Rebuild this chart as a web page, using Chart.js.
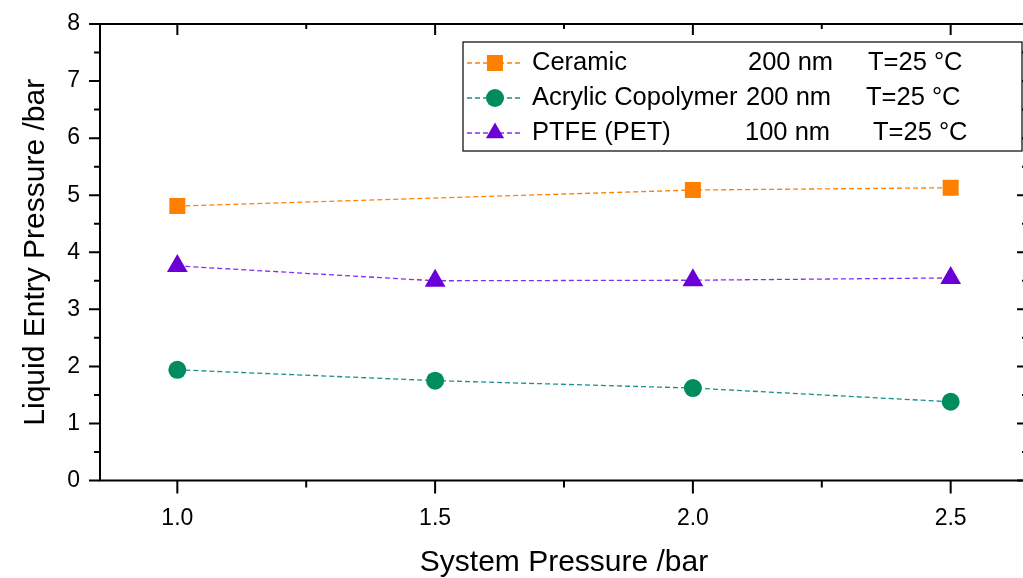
<!DOCTYPE html>
<html>
<head>
<meta charset="utf-8">
<script src="https://cdn.jsdelivr.net/npm/chart.js@4.4.1/dist/chart.umd.min.js"></script>
<style>
  html, body { margin: 0; padding: 0; background: #fff; overflow: hidden; }
  canvas { display: block; }
</style>
</head>
<body>
<canvas id="lep" width="1040" height="578" style="width:1040px;height:578px"></canvas>
<script>
// --- data ---
var xValues  = [1.0, 1.5, 2.0, 2.5];
var ceramicX = [1.0, 2.0, 2.5];
var ceramicY = [4.81, 5.09, 5.13];
var acrylicY = [1.94, 1.75, 1.62, 1.38];
var ptfeY    = [3.76, 3.50, 3.51, 3.55];

var seriesNames = ['Ceramic', 'Acrylic Copolymer', 'PTFE (PET)'];
var poreSizes   = ['200 nm', '200 nm', '100 nm'];
var temps       = ['T=25 °C', 'T=25 °C', 'T=25 °C'];

var xTicks = [1.0, 1.5, 2.0, 2.5];
var xTickLabels = ['1.0', '1.5', '2.0', '2.5'];
var xMinor = [1.25, 1.75, 2.25];
var yTicks = [0, 1, 2, 3, 4, 5, 6, 7, 8];
var yMinor = [0.5, 1.5, 2.5, 3.5, 4.5, 5.5, 6.5, 7.5];

var FONT = '"Liberation Sans", Arial, sans-serif';

function pts(xs, ys) {
    return xs.map(function(x, i) { return { x: x, y: ys[i] }; });
}

var styles = [
    { line: '#ff8000', fill: '#ff8000', shape: 'rect' },
    { line: '#16928a', fill: '#008c5e', shape: 'circle' },
    { line: '#8a2cf0', fill: '#6b00d6', shape: 'triangle' }
];

// ── frame + inward/outward ticks ───────────────────
var framePlugin = {
    id: 'frame',
    afterDraw: function(chart) {
        var ctx = chart.ctx, a = chart.chartArea;
        var xs = chart.scales.x, ys = chart.scales.y;
        ctx.save();
        ctx.strokeStyle = '#000';
        ctx.lineWidth = 2;
        ctx.beginPath();
        ctx.rect(a.left, a.top, a.right - a.left, a.bottom - a.top);
        ctx.stroke();
        ctx.beginPath();
        function xt(v, len) {
            var p = xs.getPixelForValue(v);
            ctx.moveTo(p, a.bottom); ctx.lineTo(p, a.bottom + len);   // outward
            ctx.moveTo(p, a.top);    ctx.lineTo(p, a.top + len - 2);  // inward
        }
        function yt(v, len) {
            var p = ys.getPixelForValue(v);
            ctx.moveTo(a.left, p);  ctx.lineTo(a.left - len, p);
            ctx.moveTo(a.right, p); ctx.lineTo(a.right - len, p);
        }
        xTicks.forEach(function(v) { xt(v, 13); });
        xMinor.forEach(function(v) { xt(v, 7); });
        yTicks.forEach(function(v) { yt(v, 11); });
        yMinor.forEach(function(v) { yt(v, 6); });
        ctx.stroke();
        ctx.restore();
    }
};

// ── legend with three text columns ─────────────────
function marker(ctx, shape, x, y, r) {
    ctx.beginPath();
    if (shape === 'rect') {
        var s = r * Math.SQRT1_2;
        ctx.rect(x - s, y - s, 2 * s, 2 * s);
    } else if (shape === 'circle') {
        ctx.arc(x, y, r, 0, Math.PI * 2);
    } else {
        ctx.moveTo(x, y - r);
        ctx.lineTo(x + Math.sin(Math.PI / 3) * r, y + r / 2);
        ctx.lineTo(x - Math.sin(Math.PI / 3) * r, y + r / 2);
        ctx.closePath();
    }
    ctx.fill();
}

var legendPlugin = {
    id: 'colLegend',
    afterDraw: function(chart) {
        var ctx = chart.ctx;
        var box = { l: 463, t: 42, r: 1022, b: 151 };
        var rows = [63, 98, 133];
        var col2 = [748, 746, 745];
        var col3 = [868, 866, 873];
        var radii = [11.3, 9, 10.5];
        ctx.save();
        ctx.fillStyle = '#fff';
        ctx.fillRect(box.l, box.t, box.r - box.l, box.b - box.t);
        ctx.strokeStyle = '#000';
        ctx.lineWidth = 1.2;
        ctx.strokeRect(box.l, box.t, box.r - box.l, box.b - box.t);
        seriesNames.forEach(function(name, i) {
            var y = rows[i], st = styles[i];
            ctx.strokeStyle = st.line;
            ctx.lineWidth = 1.3;
            ctx.setLineDash([5, 3]);
            ctx.beginPath();
            ctx.moveTo(467, y); ctx.lineTo(521, y);
            ctx.stroke();
            ctx.setLineDash([]);
            ctx.fillStyle = st.fill;
            marker(ctx, st.shape, 495, y, radii[i]);
            ctx.fillStyle = '#000';
            ctx.font = '25.5px ' + FONT;
            ctx.textBaseline = 'middle';
            ctx.textAlign = 'left';
            ctx.fillText(name, 532, y);
            ctx.fillText(poreSizes[i], col2[i], y);
            ctx.fillText(temps[i], col3[i], y);
        });
        ctx.restore();
    }
};

function ds(label, data, st, radius) {
    return {
        label: label,
        data: data,
        borderColor: st.line,
        borderWidth: 1.3,
        borderDash: [5, 3],
        backgroundColor: st.fill,
        pointStyle: st.shape,
        pointRadius: radius,
        pointHoverRadius: radius,
        pointBackgroundColor: st.fill,
        pointBorderColor: st.fill,
        pointBorderWidth: 0,
        tension: 0
    };
}

new Chart(document.getElementById('lep'), {
    type: 'line',
    data: {
        datasets: [
            ds(seriesNames[0], pts(ceramicX, ceramicY), styles[0], 11.3),
            ds(seriesNames[1], pts(xValues, acrylicY), styles[1], 9),
            ds(seriesNames[2], pts(xValues, ptfeY), styles[2], 12)
        ]
    },
    options: {
        responsive: false,
        animation: false,
        devicePixelRatio: 1,
        layout: { padding: { left: 0, top: 24, right: 3, bottom: 0 } },
        plugins: { legend: { display: false }, tooltip: { enabled: false } },
        scales: {
            x: {
                type: 'linear',
                min: 0.85, max: 2.65,
                afterFit: function(s) {
                    s.height = 97.5;
                    s.paddingLeft = 0; s.paddingRight = 0;
                },
                afterBuildTicks: function(s) {
                    s.ticks = xTicks.map(function(v) { return { value: v }; });
                },
                grid: { display: false, drawTicks: false },
                border: { display: false },
                ticks: {
                    padding: 24,
                    color: '#000',
                    font: { family: FONT, size: 23 },
                    callback: function(v) { return xTickLabels[xTicks.indexOf(v)]; }
                },
                title: {
                    display: true,
                    text: 'System Pressure /bar',
                    color: '#000',
                    font: { family: FONT, size: 30, lineHeight: 1 },
                    padding: { top: 0, bottom: 0 }
                }
            },
            y: {
                min: 0, max: 8,
                afterFit: function(s) {
                    s.width = 100;
                    s.paddingTop = 0; s.paddingBottom = 0;
                },
                afterBuildTicks: function(s) {
                    s.ticks = yTicks.map(function(v) { return { value: v }; });
                },
                grid: { display: false, drawTicks: false },
                border: { display: false },
                ticks: {
                    padding: 20,
                    color: '#000',
                    font: { family: FONT, size: 23 },
                    callback: function(v) { return String(v); }
                },
                title: {
                    display: true,
                    text: 'Liquid Entry Pressure /bar',
                    color: '#000',
                    font: { family: FONT, size: 30 },
                    padding: { top: 18, bottom: 0 }
                }
            }
        }
    },
    plugins: [framePlugin, legendPlugin]
});
</script>
</body>
</html>
